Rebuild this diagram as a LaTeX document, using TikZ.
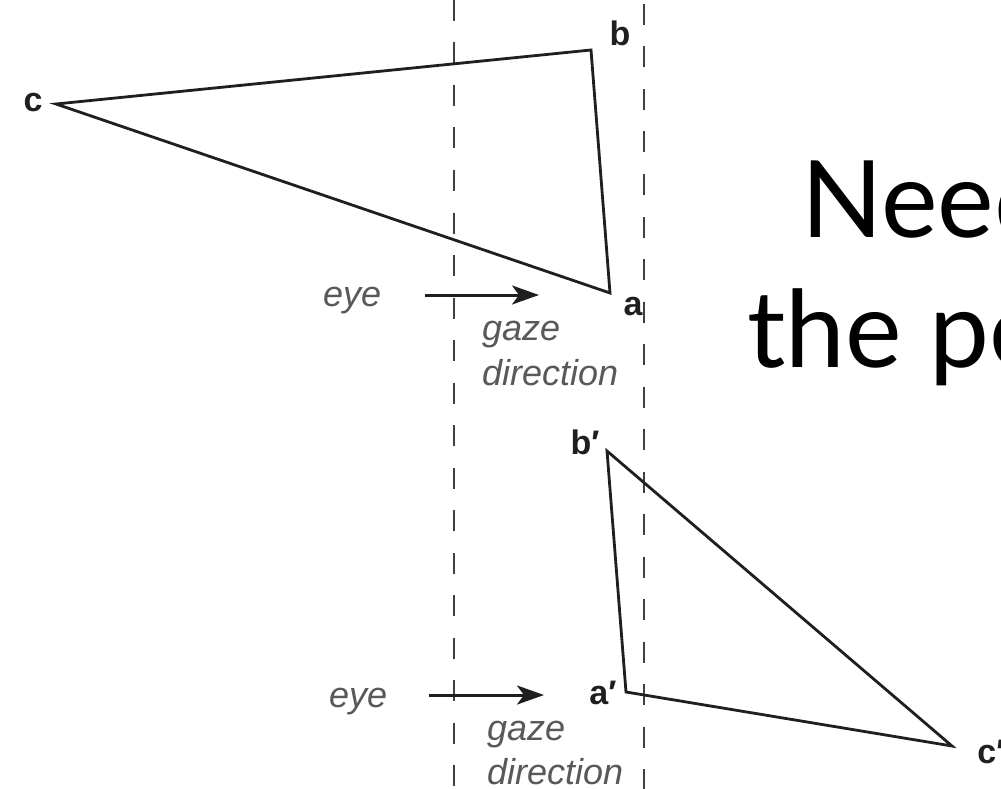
\documentclass[tikz,border=0pt]{standalone}
\usepackage{fontspec}
\setmainfont{Liberation Sans}
\newfontfamily\bigfont{Lato}
\usetikzlibrary{arrows.meta}
\begin{document}
\begin{tikzpicture}[x=1pt,y=-1pt,
  edge/.style={line width=2.8pt,color=black!88,line join=miter},
  guide/.style={line width=1.8pt,color=black!75,dash pattern=on 21pt off 21.5pt},
  gazearrow/.style={line width=3pt,color=black!88,-{Stealth[length=27pt,width=19pt,inset=7pt]}},
  vlabel/.style={font=\fontsize{34}{34}\selectfont\bfseries,text=black!88,inner sep=0pt},
  note/.style={font=\fontsize{36}{45}\selectfont\itshape,text=black!65,inner sep=0pt,anchor=base west},
  bigtext/.style={font=\bigfont\fontsize{107}{130}\selectfont,inner sep=0pt,anchor=base west}]
\useasboundingbox (0,0) rectangle (1001,789);
\fill[white] (0,0) rectangle (1001,789);

% guide lines
\coordinate (l1t) at (454,0);
\coordinate (l1b) at (454,795);
\coordinate (l2t) at (644,4);
\coordinate (l2b) at (644,795);
\draw[guide] (l1t) -- (l1b);
\draw[guide] (l2t) -- (l2b);

% upper triangle
\coordinate (A) at (610,293);
\coordinate (B) at (591,50);
\coordinate (C) at (56,104);
\draw[edge] (C) -- (B) -- (A) -- cycle;
\node[vlabel] (la) at (633,307) {a};
\node[vlabel] (lb) at (620,33) {b};
\node[vlabel] (lc) at (33,103) {c};

% lower triangle
\coordinate (A2) at (626,692);
\coordinate (B2) at (607,451);
\coordinate (C2) at (952,746);
\draw[edge] (B2) -- (C2) -- (A2) -- cycle;
\node[vlabel] (la2) at (603,693) {a′};
\node[vlabel] (lb2) at (585,442) {b′};
\node[vlabel] (lc2) at (991,752) {c′};

% upper gaze
\node[note] (eye1) at (323,306) {eye};
\coordinate (g1s) at (425,295);
\coordinate (g1e) at (539,295);
\draw[gazearrow] (g1s) -- (g1e);
\node[note] (gz1) at (482,340) {gaze};
\node[note] (dr1) at (482,385) {direction};

% lower gaze
\node[note] (eye2) at (329,707) {eye};
\coordinate (g2s) at (429,695);
\coordinate (g2e) at (544,695);
\draw[gazearrow] (g2s) -- (g2e);
\node[note] (gz2) at (487,740) {gaze};
\node[note] (dr2) at (487,784) {direction};

% big text
\node[bigtext] (t1) at (801,237) {Need};
\node[bigtext] (t2) at (747,367) {the pe};
\end{tikzpicture}
\end{document}
